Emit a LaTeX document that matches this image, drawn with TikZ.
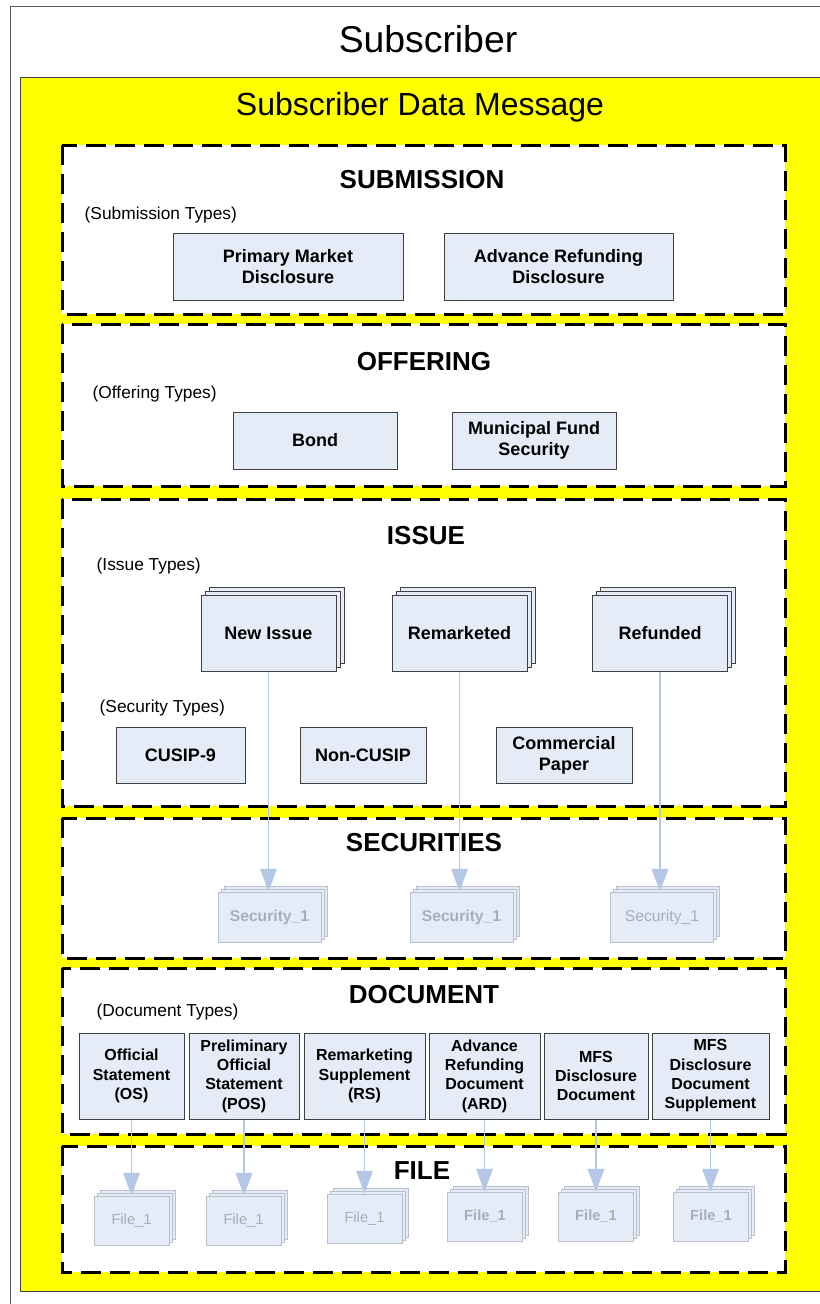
\documentclass[tikz,border=0pt]{standalone}
\usepackage{fontspec}
\setmainfont{Liberation Sans}
\usetikzlibrary{positioning,shadows,arrows.meta}

\definecolor{subyellow}{HTML}{FFFF00}
\definecolor{boxfill}{HTML}{E6ECF7}
\definecolor{boxline}{HTML}{404040}
\definecolor{fadeline}{HTML}{B8C0CC}
\definecolor{fadetext}{HTML}{A8AEB8}
\definecolor{flowblue}{HTML}{B4C8E6}

\tikzset{
  typebox/.style={draw=boxline, fill=boxfill, line width=0.75pt, align=center, inner sep=0pt,
    font=\bfseries\fontsize{13.5}{15.75}\selectfont},
  stackbox/.style={typebox, double copy shadow={shadow xshift=3pt, shadow yshift=3pt}},
  docbox/.style={typebox, font=\bfseries\fontsize{12}{14.5}\selectfont},
  fadebox/.style={draw=fadeline, fill=boxfill, line width=0.75pt, text=fadetext, inner sep=0pt,
    minimum width=56.25pt, minimum height=36.75pt, font=\fontsize{11}{13}\selectfont,
    double copy shadow={shadow xshift=2.25pt, shadow yshift=2.25pt}},
  secbox/.style={fadebox, minimum width=77.25pt, minimum height=37.5pt, font=\fontsize{11.75}{13}\selectfont},
  layer/.style={draw=black, fill=white, line width=2.25pt, dash pattern=on 15pt off 6.75pt},
  layertitle/.style={anchor=base, font=\bfseries\fontsize{19.5}{23}\selectfont},
  typelabel/.style={anchor=base west, font=\fontsize{13}{15}\selectfont},
  flow/.style={draw=flowblue, line width=1pt, -{Triangle[width=12.5pt,length=17pt]}},
}

\begin{document}
\begin{tikzpicture}[x=0.75pt,y=0.75pt,yscale=-1,xscale=1]
\useasboundingbox (0,0) rectangle (820,1304);

%Shape: Rectangle [subscriber]
\draw [draw=black!65, line width=0.75pt] (10,6) rectangle (900,1340);
%Shape: Rectangle [message]
\draw [draw=black!75, fill=subyellow, line width=0.75pt] (20,77) rectangle (900,1291);

% Text Node
\node [anchor=base, font=\fontsize{28}{32}\selectfont] (subscriber) at (428,52) {Subscriber};
% Text Node
\node [anchor=base, font=\fontsize{24}{28}\selectfont] (message) at (420,115) {Subscriber Data Message};

%Shape: Dashed layers
\draw [layer] (62,145) rectangle (785,314);
\draw [layer] (62,324) rectangle (785,486);
\draw [layer] (62,499) rectangle (785,806);
\draw [layer] (62,818) rectangle (785,958);
\draw [layer] (62,968) rectangle (785,1134);
\draw [layer] (62,1146) rectangle (785,1272);

% Layer titles
\node [layertitle] (submission) at (422,188) {SUBMISSION};
\node [layertitle] (offering) at (424,370) {OFFERING};
\node [layertitle] (issue) at (426,544) {ISSUE};
\node [layertitle] (securities) at (424,851) {SECURITIES};
\node [layertitle] (document) at (424,1003) {DOCUMENT};
\node [layertitle] (file) at (422,1179) {FILE};

% Type labels
\node [typelabel] (subtypes) at (80,219.5) {(Submission Types)};
\node [typelabel] (offtypes) at (88,398.5) {(Offering Types)};
\node [typelabel] (isstypes) at (92,570.5) {(Issue Types)};
\node [typelabel] (sectypes) at (95,712.5) {(Security Types)};
\node [typelabel] (doctypes) at (92,1016.5) {(Document Types)};

% Submission types
\node [typebox, minimum width=172.5pt, minimum height=50.25pt] (primary) at (288,266.5) {Primary Market\\Disclosure};
\node [typebox, minimum width=171.75pt, minimum height=50.25pt] (advance) at (558.5,266.5) {Advance Refunding\\Disclosure};

% Offering types
\node [typebox, minimum width=123pt, minimum height=42.75pt] (bond) at (315,440.5) {Bond};
\node [typebox, minimum width=123pt, minimum height=42.75pt] (munifund) at (534,440.5) {Municipal Fund\\Security};

% Issue types
\node [stackbox, minimum width=101.25pt, minimum height=57pt] (newissue) at (268.5,633) {New Issue};
\node [stackbox, minimum width=101.25pt, minimum height=57pt] (remarketed) at (459.5,633) {Remarketed};
\node [stackbox, minimum width=101.25pt, minimum height=57pt] (refunded) at (660,633) {Refunded};

% Security types
\node [typebox, minimum width=96.75pt, minimum height=42pt] (cusip) at (180.5,755) {CUSIP-9};
\node [typebox, minimum width=94.5pt, minimum height=42pt] (noncusip) at (363,755) {Non-CUSIP};
\node [typebox, minimum width=102pt, minimum height=42pt] (paper) at (564,755) {Commercial\\Paper};

% Securities
\node [secbox, font=\bfseries\fontsize{11.75}{13}\selectfont] (secA) at (269.5,917) {Security\_1};
\node [secbox, font=\bfseries\fontsize{11.75}{13}\selectfont] (secB) at (461.5,917) {Security\_1};
\node [secbox] (secC) at (662,917) {Security\_1};

% Document types
\node [docbox, minimum width=78.75pt, minimum height=64.5pt] (os) at (131.5,1076) {Official\\Statement\\(OS)};
\node [docbox, minimum width=82.5pt, minimum height=64.5pt] (pos) at (244,1076) {Preliminary\\Official\\Statement\\(POS)};
\node [docbox, minimum width=90.75pt, minimum height=64.5pt] (rs) at (364.5,1076) {Remarketing\\Supplement\\(RS)};
\node [docbox, minimum width=83.25pt, minimum height=64.5pt] (ard) at (484.5,1076) {Advance\\Refunding\\Document\\(ARD)};
\node [docbox, minimum width=78pt, minimum height=64.5pt] (mfsdoc) at (596,1076) {MFS\\Disclosure\\Document};
\node [docbox, minimum width=87.75pt, minimum height=64.5pt] (mfssup) at (710.5,1076) {MFS\\Disclosure\\Document\\Supplement};

% Files
\node [fadebox] (fileA) at (131.5,1220.5) {File\_1};
\node [fadebox] (fileB) at (243.5,1220.5) {File\_1};
\node [fadebox] (fileC) at (364.5,1218.5) {File\_1};
\node [fadebox, font=\bfseries\fontsize{11}{13}\selectfont] (fileD) at (485,1216.5) {File\_1};
\node [fadebox, font=\bfseries\fontsize{11}{13}\selectfont] (fileE) at (596,1216.5) {File\_1};
\node [fadebox, font=\bfseries\fontsize{11}{13}\selectfont] (fileF) at (711,1216.5) {File\_1};

%Straight Lines
\draw [flow] (newissue.south) -- (newissue.south |- secA.north);
\draw [flow] (remarketed.south) -- (remarketed.south |- secB.north);
\draw [flow] (refunded.south) -- (refunded.south |- secC.north);
\draw [flow] (os.south) -- (os.south |- fileA.north);
\draw [flow] (pos.south) -- (pos.south |- fileB.north);
\draw [flow] (rs.south) -- (rs.south |- fileC.north);
\draw [flow] (ard.south) -- (ard.south |- fileD.north);
\draw [flow] (mfsdoc.south) -- (mfsdoc.south |- fileE.north);
\draw [flow] (mfssup.south) -- (mfssup.south |- fileF.north);

\end{tikzpicture}
\end{document}
